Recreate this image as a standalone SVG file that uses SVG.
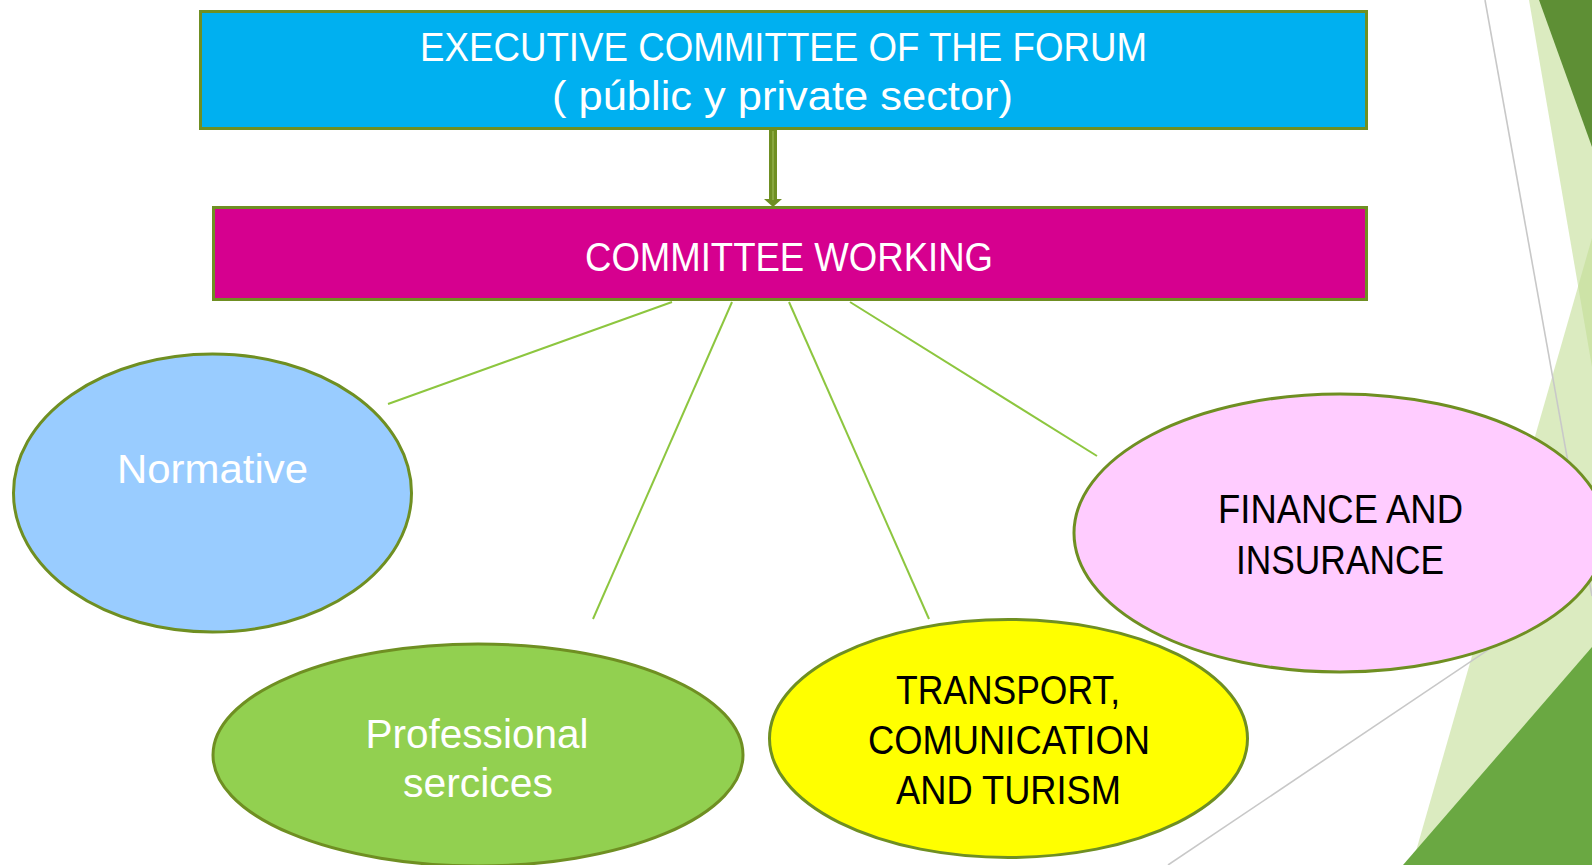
<svg xmlns="http://www.w3.org/2000/svg" width="1592" height="865" viewBox="0 0 1592 865">
<defs>
<style>
.bg{fill:#ffffff}
.pale{fill:#c3de96;fill-opacity:0.6}
.darkTop{fill:#5e8f35}
.darkBot{fill:#6aa842}
.gline{stroke:#c8c8c8;stroke-width:1.6;fill:none}
.box{stroke:#6f8f22;stroke-width:3}
.ell{stroke:#6f8f22;stroke-width:3}
.conn{stroke:#8dc63f;stroke-width:2;fill:none}
.txt{font-family:"Liberation Sans",Arial,sans-serif;font-size:41px;text-anchor:middle}
.w{fill:#ffffff}
.k{fill:#000000}
</style>
<marker id="arrowHead" viewBox="0 0 8 18" refX="1" refY="9" markerWidth="8" markerHeight="18" markerUnits="userSpaceOnUse" orient="auto">
<path d="M0,0 L8,9 L0,18 Z" fill="#6f8f22"/>
</marker>
</defs>
<rect class="bg" x="0" y="0" width="1592" height="865"/>
<g id="decoration">
<polygon class="pale" points="1529,0 1592,0 1592,367"/>
<polygon class="pale" points="1592,238 1412,865 1592,865"/>
<polygon class="darkTop" points="1539,0 1592,0 1592,147"/>
<polygon class="darkBot" points="1403,865 1592,647 1592,865"/>
<line class="gline" x1="1485" y1="0" x2="1592" y2="596"/>
<line class="gline" x1="1168" y1="865" x2="1592" y2="580"/>
</g>
<g id="connectors">
<line x1="773" y1="130" x2="773" y2="200" stroke="#6f8f22" stroke-width="8" marker-end="url(#arrowHead)"/>
<line x1="773" y1="131" x2="773" y2="200" stroke="#9ab854" stroke-width="1.2"/>
<line class="conn" x1="672" y1="302" x2="388" y2="404"/>
<line class="conn" x1="732" y1="302" x2="593" y2="619"/>
<line class="conn" x1="789" y1="302" x2="929" y2="619"/>
<line class="conn" x1="850" y1="302" x2="1097" y2="456"/>
</g>
<g id="executive">
<rect class="box" x="200.5" y="11.5" width="1166" height="117" fill="#00b0f0"/>
<text class="txt w" x="783.5" y="61" font-size="40" textLength="727" lengthAdjust="spacingAndGlyphs">EXECUTIVE COMMITTEE OF THE FORUM</text>
<text class="txt w" x="782.5" y="110" font-size="40" textLength="461" lengthAdjust="spacingAndGlyphs">( públic y private sector)</text>
</g>
<g id="working">
<rect class="box" x="213.5" y="207.5" width="1153" height="92" fill="#d6008f"/>
<text class="txt w" x="789" y="271" textLength="408" lengthAdjust="spacingAndGlyphs">COMMITTEE WORKING</text>
</g>
<g id="normative">
<ellipse class="ell" cx="212.5" cy="493" rx="199" ry="139" fill="#99ccff"/>
<text class="txt w" x="212.5" y="483" textLength="191" lengthAdjust="spacingAndGlyphs">Normative</text>
</g>
<g id="professional">
<ellipse class="ell" cx="478" cy="755" rx="265" ry="111" fill="#92d050"/>
<text class="txt w" x="477" y="748" textLength="223" lengthAdjust="spacingAndGlyphs">Professional</text>
<text class="txt w" x="478" y="797" textLength="150" lengthAdjust="spacingAndGlyphs">sercices</text>
</g>
<g id="transport">
<ellipse class="ell" cx="1008.5" cy="738.5" rx="239" ry="119" fill="#ffff00"/>
<text class="txt k" x="1008" y="704" textLength="224" lengthAdjust="spacingAndGlyphs">TRANSPORT,</text>
<text class="txt k" x="1009" y="754" textLength="282" lengthAdjust="spacingAndGlyphs">COMUNICATION</text>
<text class="txt k" x="1008.5" y="804" textLength="225" lengthAdjust="spacingAndGlyphs">AND TURISM</text>
</g>
<g id="finance">
<ellipse class="ell" cx="1340" cy="533" rx="266" ry="139" fill="#ffccff"/>
<text class="txt k" x="1340.5" y="523" textLength="245" lengthAdjust="spacingAndGlyphs">FINANCE AND</text>
<text class="txt k" x="1340" y="574" textLength="208" lengthAdjust="spacingAndGlyphs">INSURANCE</text>
</g>
</svg>
